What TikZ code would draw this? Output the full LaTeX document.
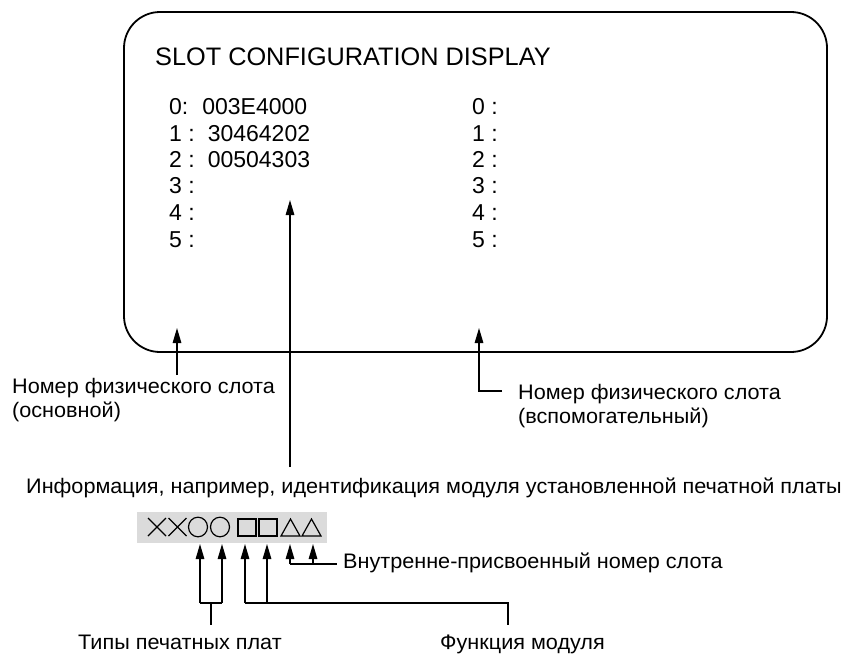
\documentclass[tikz,border=0pt]{standalone}
\usepackage{fontspec}
\setmainfont{Liberation Sans}
\newfontfamily\lblfont[FakeStretch=1.03]{Liberation Sans}
\usetikzlibrary{arrows.meta}
\definecolor{bandgray}{gray}{0.86}
\tikzset{
  arr/.style={line width=1.4pt, -{Triangle[length=15pt,width=8.5pt]}},
  con/.style={line width=1.4pt},
  screen/.style={draw, line width=1.8pt, rounded corners=36pt},
  lbl/.style={anchor=base west, inner sep=0pt, font=\lblfont\fontsize{21}{24}\selectfont, align=left},
  row/.style={anchor=base west, inner sep=0pt, font=\fontsize{23}{27}\selectfont},
  sym/.style={line width=1.2pt},
}
\begin{document}
\begin{tikzpicture}[x=1pt,y=-1pt]
\useasboundingbox (0,0) rectangle (842,653);
% screen
\draw[screen] (124,12) rectangle (827,352);
\node[anchor=base west, inner sep=0pt, font=\fontsize{25.3}{30}\selectfont] (title) at (155,65) {SLOT CONFIGURATION DISPLAY};
% left column
\node[row] (l0) at (169,114) {0:\hspace{14pt}003E4000};
\node[row] (l1) at (169,141) {1 :\hspace{13pt}30464202};
\node[row] (l2) at (169,167) {2 :\hspace{13pt}00504303};
\node[row] (l3) at (169,193) {3 :};
\node[row] (l4) at (169,220) {4 :};
\node[row] (l5) at (169,247) {5 :};
% right column
\node[row] (r0) at (472,114) {0 :};
\node[row] (r1) at (472,141) {1 :};
\node[row] (r2) at (472,167) {2 :};
\node[row] (r3) at (472,193) {3 :};
\node[row] (r4) at (472,220) {4 :};
\node[row] (r5) at (472,247) {5 :};
% labels (base = last line)
\node[lbl] (lmain) at (12,417) {Номер физического слота\\(основной)};
\node[lbl] (laux) at (518,423) {Номер физического слота\\(вспомогательный)};
\node[lbl] (info) at (26,493) {Информация, например, идентификация модуля установленной печатной платы};
\node[lbl] (inner) at (343,568) {Внутренне-присвоенный номер слота};
\node[lbl] (types) at (78,649) {Типы печатных плат};
\node[lbl] (func) at (440,649) {Функция модуля};
% arrows to screen
\coordinate (ltip) at (177,328); \coordinate (lend) at (177,375);
\draw[arr] (lend) -- (ltip);
\coordinate (rtip) at (479,328); \coordinate (relb) at (479,391); \coordinate (rend) at (502,391);
\draw[arr] (rend) -- (relb) -- (rtip);
\coordinate (mtip) at (290,200); \coordinate (mend) at (290,467);
\draw[arr] (mend) -- (mtip);
% symbol band
\fill[bandgray] (137,512) rectangle (327,543);
\draw[sym] (148,518) -- (166,536) (148,536) -- (166,518);
\draw[sym] (168.5,518) -- (186.5,536) (168.5,536) -- (186.5,518);
\draw[sym] (198,527) circle[x radius=9.5, y radius=9.8];
\draw[sym] (220,527) circle[x radius=9.5, y radius=9.8];
\draw[sym] (238,519) rectangle (256,536);
\draw[sym] (259,519) rectangle (277,536);
\draw[sym] (281,536) -- (290.5,519) -- (300,536) -- cycle;
\draw[sym] (302,536) -- (311.5,519) -- (321,536) -- cycle;
% symbol arrows
\coordinate (t1) at (200,544); \coordinate (t2) at (222,544);
\coordinate (t3) at (245,544); \coordinate (t4) at (267,544);
\coordinate (t5) at (290,544); \coordinate (t6) at (313,544);
\coordinate (b1) at (200,603); \coordinate (b2) at (222,603);
\coordinate (b3) at (245,603); \coordinate (b4) at (267,603);
\coordinate (b5) at (290,564); \coordinate (b6) at (313,564);
\coordinate (tstem) at (211,603); \coordinate (tstemend) at (211,625);
\coordinate (fcorner) at (508,603); \coordinate (fend) at (508,625);
\coordinate (iend) at (337,564);
\draw[arr] (b1) -- (t1);
\draw[arr] (b2) -- (t2);
\draw[con] (b1) -- (b2) (tstem) -- (tstemend);
\draw[arr] (b3) -- (t3);
\draw[arr] (b4) -- (t4);
\draw[con] (b3) -- (fcorner) -- (fend);
\draw[arr] (b5) -- (t5);
\draw[arr] (b6) -- (t6);
\draw[con] (b5) -- (iend);
\end{tikzpicture}
\end{document}
